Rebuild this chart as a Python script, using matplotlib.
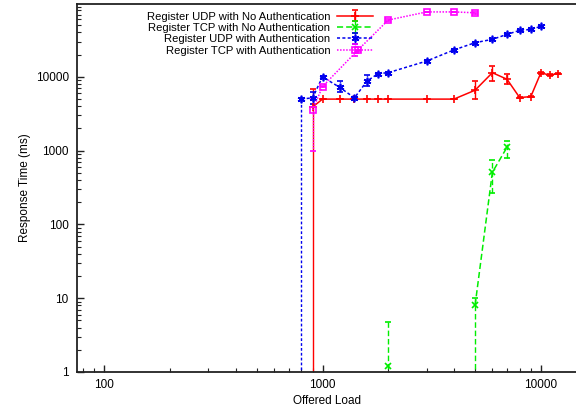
import matplotlib.pyplot as plt
import numpy as np

plt.rcParams['font.family'] = ['Liberation Sans', 'DejaVu Sans']
plt.rcParams['font.size'] = 8.5

# Register UDP, no authentication
udp_na_x = [900, 1000, 1200, 1400, 1600, 1800, 2000, 3000, 4000, 5000, 6000, 7000, 8000, 9000, 10000, 11000, 12000]
udp_na_y = [3900, 5000, 5000, 5000, 5000, 5000, 5000, 5000, 5000, 6600, 11400, 9300, 5250, 5400, 11300, 10600, 11100]
udp_na_lo = [0.5, 4950, 4950, 4950, 4950, 4950, 4950, 4950, 4950, 5000, 8700, 7900, 5150, 5300, 11000, 10200, 10900]
udp_na_hi = [6950, 5050, 5050, 5050, 5050, 5050, 5050, 5050, 5050, 8900, 14000, 11000, 5350, 5500, 11600, 11000, 11300]

# Register TCP, no authentication
tcp_na_x = [2000, 3000, 4000, 5000, 6000, 7000]
tcp_na_y = [1.2, np.nan, np.nan, 8.0, 509, 1110]
tcp_na_lo = [0.5, np.nan, np.nan, 0.5, 268, 787]
tcp_na_hi = [4.7, np.nan, np.nan, 10.2, 755, 1340]

# Register UDP with authentication
udp_a_x = [800, 900, 1000, 1200, 1400, 1600, 1800, 2000, 3000, 4000, 5000, 6000, 7000, 8000, 9000, 10000]
udp_a_y = [5000, 5200, 10000, 7200, 5200, 8800, 11100, 11400, 16400, 23200, 29100, 32300, 37700, 42700, 44000, 48400]
udp_a_lo = [0.5, 4300, 9700, 6300, 5000, 7500, 10800, 11100, 16000, 22600, 28400, 31500, 36800, 41700, 43000, 47300]
udp_a_hi = [5100, 6300, 10300, 8700, 5400, 10600, 11400, 11700, 16800, 23800, 29800, 33100, 38600, 43700, 45000, 49500]

# Register TCP with authentication
tcp_a_x = [900, 1000, 1450, 2000, 3000, 4000, 5000]
tcp_a_y = [3550, 7400, 23000, 59000, 76000, 76000, 74000]
tcp_a_lo = [1000, 7200, 22500, 58000, 75000, 75000, 72000]
tcp_a_hi = [5000, 7600, 23500, 60000, 77000, 77000, 76000]

labels = ['Register UDP with No Authentication', 'Register TCP with No Authentication',
          'Register UDP with Authentication', 'Register TCP with Authentication']


def err(y, lo, hi):
    y = np.array(y, dtype=float)
    return [y - np.array(lo, dtype=float), np.array(hi, dtype=float) - y]


fig = plt.figure(figsize=(5.76, 4.11), dpi=100)
ax = fig.add_axes([0.1337, 0.095, 0.8663, 0.895])

series = [
    (udp_na_x, udp_na_y, udp_na_lo, udp_na_hi, '#ff0000', '-', '+', 'full', 6),
    (tcp_na_x, tcp_na_y, tcp_na_lo, tcp_na_hi, '#00ee00', (0, (4, 2)), 'x', 'full', 5),
    (udp_a_x, udp_a_y, udp_a_lo, udp_a_hi, '#0000ee', (0, (2, 1.5)), (6, 2, 0), 'full', 5.5),
    (tcp_a_x, tcp_a_y, tcp_a_lo, tcp_a_hi, '#ff00ff', (0, (1, 1)), 's', 'none', 5),
]
for (x, y, lo, hi, c, ls, mk, fill, ms), lab in zip(series, labels):
    eb = ax.errorbar(x, y, yerr=err(y, lo, hi), color=c, ls=ls, lw=1.1, marker=mk,
                     ms=ms, mew=1.2, fillstyle=fill, capsize=2.5, elinewidth=1.0, label=lab)
    for l in eb[2]:
        l.set_linestyle(ls)

ax.set_xscale('log')
ax.set_yscale('log')
ax.set_xlim(75, 14500)
ax.set_ylim(1, 97000)
ax.set_xticks([100, 1000, 10000])
ax.set_xticklabels(['100', '1000', '10000'])
ax.set_yticks([1, 10, 100, 1000, 10000])
ax.set_yticklabels(['1', '10', '100', '1000', '10000'])
ax.tick_params(which='both', direction='in', color='#222222')
ax.tick_params(which='major', length=5, width=1)
ax.tick_params(which='minor', length=3, width=0.8)
ax.tick_params(axis='x', pad=5)
ax.tick_params(axis='y', pad=6)
for s in ['left', 'bottom', 'top']:
    ax.spines[s].set_linewidth(1.3)
    ax.spines[s].set_color('#222222')
ax.spines['right'].set_visible(False)

ax.set_xlabel('Offered Load', labelpad=3)
ax.set_ylabel('Response Time (ms)', labelpad=3)

ax.legend(loc='upper right', bbox_to_anchor=(0.648, 0.972), bbox_transform=fig.transFigure,
          frameon=False, markerfirst=False, labelspacing=0.13, handlelength=3.2,
          handletextpad=0.6, borderaxespad=0, borderpad=0, fontsize=8.1)

plt.savefig('out.png', dpi=100)
